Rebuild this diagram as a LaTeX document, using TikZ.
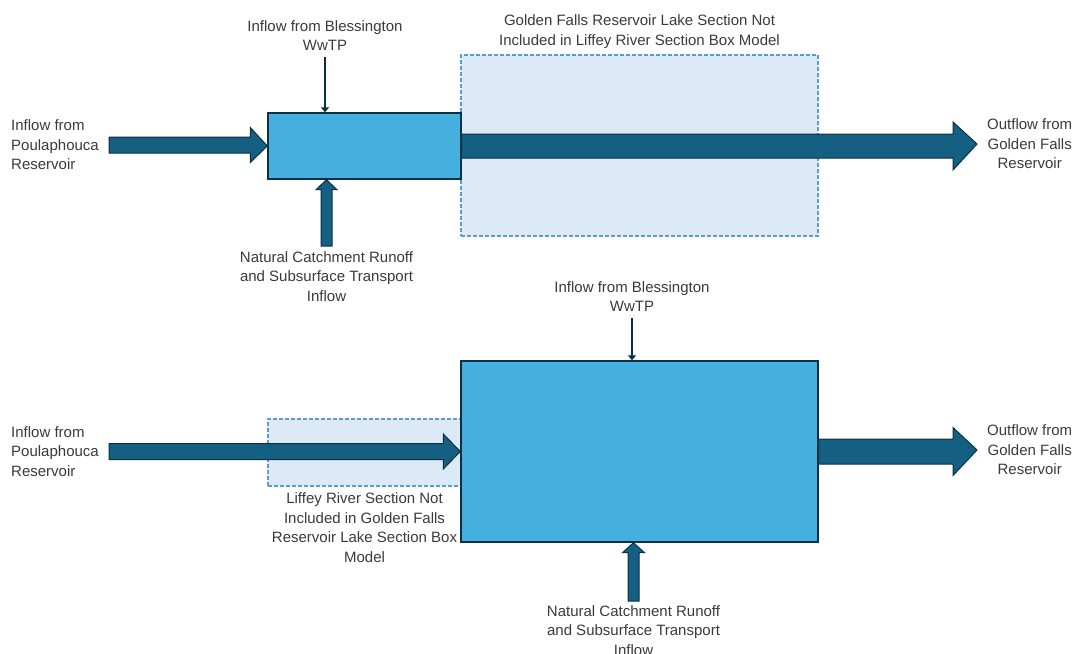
\documentclass[tikz,border=0pt]{standalone}
\usepackage{fontspec}
\setmainfont{Liberation Sans}
\usepackage{xcolor}
\usetikzlibrary{arrows.meta, positioning, calc}

\definecolor{boxblue}{HTML}{45AFE0}
\definecolor{flowblue}{HTML}{155F82}
\definecolor{edgedark}{HTML}{0B3044}
\definecolor{omitfill}{HTML}{DCE9F6}
\definecolor{omitline}{HTML}{5B9BD5}
\definecolor{labelgray}{HTML}{3A3A3A}

\begin{document}
\begin{tikzpicture}[
    x=1pt, y=-1pt,
    node distance=2pt,
    segbox/.style={rectangle, draw=edgedark, fill=boxblue, line width=1.4pt, inner sep=0pt},
    omitbox/.style={rectangle, draw=omitline, fill=omitfill, line width=1.3pt, dash pattern=on 4pt off 2pt, inner sep=0pt},
    lbl/.style={text=labelgray, align=center, inner sep=0pt, font=\fontsize{15}{19.5}\selectfont},
    flow/.style={draw=edgedark, fill=flowblue, line width=1pt, line join=miter},
    thin/.style={draw=edgedark, line width=2.6pt, -{Triangle[width=8pt,length=5pt]}},
    % block arrow to the right: shaft half width / head half width / head length
    hflow/.style n args={3}{to path={let \p1=(\tikztostart), \p2=(\tikztotarget) in
        (\x1,\y1+#1) -- (\x2-#3,\y1+#1) -- (\x2-#3,\y1+#2) -- (\x2,\y2)
        -- (\x2-#3,\y1-#2) -- (\x2-#3,\y1-#1) -- (\x1,\y1-#1) -- cycle}},
    % block arrow pointing up
    vflow/.style n args={3}{to path={let \p1=(\tikztostart), \p2=(\tikztotarget) in
        (\x1-#1,\y1) -- (\x1-#1,\y2-#3) -- (\x1-#2,\y2-#3) -- (\x2,\y2)
        -- (\x1+#2,\y2-#3) -- (\x1+#1,\y2-#3) -- (\x1+#1,\y1) -- cycle}}
]
    \useasboundingbox (0,0) rectangle (1078,653);

    % ---------------- top: Liffey River section model ----------------
    \node [omitbox, minimum width=357pt, minimum height=181pt] (lakeout) at (639.5,145.5) {};
    \node [segbox, minimum width=193pt, minimum height=66pt] (liffey) at (364.5,146) {};

    \coordinate (pin)  at (109,145);
    \coordinate (gout) at (977,144);
    \coordinate (nin)  at (326.5,246);
    \coordinate (bin)  at (325,57);

    \path [flow] (pin) to[hflow={8pt}{17.5pt}{17pt}] (liffey.west);
    \path [flow] (liffey.east) to[hflow={12pt}{24pt}{24pt}] (gout);
    \path [flow] (nin) to[vflow={5.5pt}{10.5pt}{10pt}] (nin |- liffey.south);
    \draw [thin] (bin) -- (bin |- liffey.north);

    % labels
    \node [lbl, align=left, left=10pt of pin] (pinlbl) {Inflow from\\Poulaphouca\\Reservoir};
    \node [lbl, right=10pt of gout] (goutlbl) {Outflow from\\Golden Falls\\Reservoir};
    \node [lbl, above=6pt of bin] (binlbl) {Inflow from Blessington\\WwTP};
    \node [lbl, below=5pt of nin] (ninlbl) {Natural Catchment Runoff\\and Subsurface Transport\\Inflow};
    \node [lbl, above=6pt of lakeout.north] (lakeoutlbl) {Golden Falls Reservoir Lake Section Not\\Included in Liffey River Section Box Model};

    % ---------------- bottom: Golden Falls lake section model ----------------
    \node [omitbox, minimum width=193pt, minimum height=67pt] (liffeyout) at (364.5,452.5) {};
    \node [segbox, minimum width=357pt, minimum height=181pt] (lake) at (639.5,451.5) {};

    \coordinate (pin2)  at (109,451.5);
    \coordinate (gout2) at (977,450);
    \coordinate (nin2)  at (633.5,601);
    \coordinate (bin2)  at (632,318);

    \path [flow] (pin2) to[hflow={8pt}{17.5pt}{17pt}] (lake.west);
    \path [flow] (lake.east) to[hflow={12.5pt}{24pt}{24pt}] (gout2);
    \path [flow] (nin2) to[vflow={5.5pt}{11pt}{10pt}] (nin2 |- lake.south);
    \draw [thin] (bin2) -- (bin2 |- lake.north);

    % labels
    \node [lbl, align=left, left=10pt of pin2] (pin2lbl) {Inflow from\\Poulaphouca\\Reservoir};
    \node [lbl, right=10pt of gout2] (gout2lbl) {Outflow from\\Golden Falls\\Reservoir};
    \node [lbl, above=6pt of bin2] (bin2lbl) {Inflow from Blessington\\WwTP};
    \node [lbl, below=4pt of nin2] (nin2lbl) {Natural Catchment Runoff\\and Subsurface Transport\\Inflow};
    \node [lbl, below=6pt of liffeyout.south] (liffeyoutlbl) {Liffey River Section Not\\Included in Golden Falls\\Reservoir Lake Section Box\\Model};
\end{tikzpicture}
\end{document}
